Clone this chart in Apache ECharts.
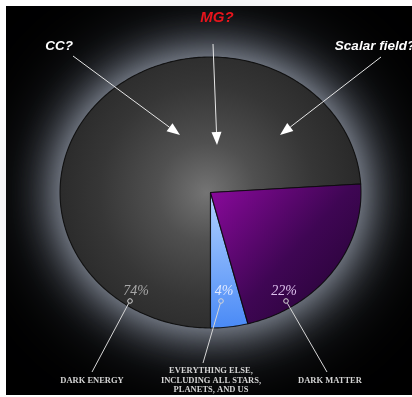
<!DOCTYPE html>
<html><head><meta charset="utf-8">
<script src="https://cdn.jsdelivr.net/npm/echarts@6/dist/echarts.min.js"></script>
<style>
html,body{margin:0;padding:0;background:#fff;}
#frame{position:absolute;left:6px;top:6px;width:406px;height:389px;background:#000;}
#chart{position:absolute;left:0;top:0;width:412px;height:397px;}
</style></head><body>
<div id="frame"></div><div id="chart"></div>
<script>
// Shares of the cosmic energy budget, in percent
const categories = ['DARK ENERGY', 'EVERYTHING ELSE,\nINCLUDING ALL STARS,\nPLANETS, AND US', 'DARK MATTER'];
const shares = [74, 4, 22];
// Candidate explanations pointing at the dark-energy wedge
const questions = ['CC?', 'MG?', 'Scalar field?'];

const chart = echarts.init(document.getElementById('chart'), null, { renderer: 'canvas' });

// The disc is a unit circle in data space; the grid's proportions stretch it into an ellipse.
const START = 270 - shares[0] * 3.6; // dark energy closes at six o'clock

function wedgeAngles(i) {
  let a0 = START;
  for (let k = 0; k < i; k++) a0 += shares[k] * 3.6;
  return [a0, a0 + shares[i] * 3.6];
}
function arcPoints(api, a0, a1) {
  const pts = [];
  const n = Math.max(2, Math.ceil(Math.abs(a1 - a0)));
  for (let s = 0; s <= n; s++) {
    const a = (a0 + (a1 - a0) * s / n) * Math.PI / 180;
    pts.push(api.coord([Math.cos(a), Math.sin(a)]));
  }
  return pts;
}
function wedgeFill(i, api) {
  const c = api.coord([0, 0]);
  if (i === 0) {
    return { type: 'radial', x: c[0] - 4, y: c[1], r: 165, global: true,
      colorStops: [{ offset: 0, color: '#747474' }, { offset: 0.3, color: '#505050' },
                   { offset: 0.65, color: '#363636' }, { offset: 1, color: '#262626' }] };
  }
  if (i === 1) {
    const b = api.coord([0, -1]);
    return { type: 'linear', x: c[0], y: c[1], x2: c[0], y2: b[1], global: true,
      colorStops: [{ offset: 0, color: '#b2d2ff' }, { offset: 1, color: '#4a8af6' }] };
  }
  const e = api.coord([1, -1]);
  return { type: 'linear', x: c[0], y: c[1], x2: e[0], y2: e[1], global: true,
    colorStops: [{ offset: 0, color: '#88099a' }, { offset: 0.5, color: '#3f0654' }, { offset: 1, color: '#1e032b' }] };
}

// Arrow from a question label towards the disc
function arrow(x0, y0, x1, y1) {
  const dx = x1 - x0, dy = y1 - y0, L = Math.hypot(dx, dy);
  const ux = dx / L, uy = dy / L, hl = 13, hw = 5;
  const bx = x1 - ux * hl, by = y1 - uy * hl;
  return [
    { type: 'line', z: 50, shape: { x1: x0, y1: y0, x2: bx, y2: by }, style: { stroke: '#e6e6e6', lineWidth: 1 } },
    { type: 'polygon', z: 50, shape: { points: [[x1, y1], [bx - uy * hw, by + ux * hw], [bx + uy * hw, by - ux * hw]] },
      style: { fill: '#ffffff' } }
  ];
}

const pctColors = ['#a6a6a6', '#dfe8ff', '#dcc0ec'];
const pctPos = [[136, 291], [224, 291], [284, 291]];
const markPos = [[130, 301], [221, 301], [286, 301]];
const namePos = [[92, 376], [211, 366], [330, 376]];
const leaderEnd = [[92, 372], [203, 363], [327, 372]];

const graphics = [];
shares.forEach((v, i) => {
  graphics.push({ type: 'text', z: 50, x: pctPos[i][0], y: pctPos[i][1],
    style: { text: v + '%', fill: pctColors[i], fontFamily: 'Liberation Serif', fontStyle: 'italic',
      fontSize: 14, align: 'center', verticalAlign: 'middle' } });
  graphics.push({ type: 'circle', z: 50, shape: { cx: markPos[i][0], cy: markPos[i][1], r: 2.3 },
    style: { fill: 'none', stroke: '#d6d6d6', lineWidth: 1 } });
  graphics.push({ type: 'line', z: 50, shape: { x1: markPos[i][0] + (leaderEnd[i][0] - markPos[i][0]) * 0.035,
      y1: markPos[i][1] + 2.3, x2: leaderEnd[i][0], y2: leaderEnd[i][1] },
    style: { stroke: '#d6d6d6', lineWidth: 1 } });
  graphics.push({ type: 'text', z: 50, x: namePos[i][0], y: namePos[i][1],
    style: { text: categories[i], fill: '#d4d4d4', fontFamily: 'Liberation Serif', fontWeight: 'bold',
      fontSize: 8.5, lineHeight: 9.6, align: 'center', verticalAlign: 'top' } });
});

const qPos = [[59, 46], [217, 18], [375, 46]];
const qColors = ['#ffffff', '#e8141c', '#ffffff'];
const qSizes = [13.5, 15, 13.5];
questions.forEach((q, i) => {
  graphics.push({ type: 'text', z: 50, x: qPos[i][0], y: qPos[i][1],
    style: { text: q, fill: qColors[i], fontFamily: 'Liberation Sans', fontStyle: 'italic', fontWeight: 'bold',
      fontSize: qSizes[i], align: 'center', verticalAlign: 'middle' } });
});
graphics.push(...arrow(73, 56, 180, 135), ...arrow(213, 44, 217, 145), ...arrow(381, 57, 280, 135));

chart.setOption({
  backgroundColor: 'transparent',
  animation: false,
  grid: { left: 60, top: 57, width: 301, height: 271 },
  xAxis: { type: 'value', min: -1, max: 1, show: false },
  yAxis: { type: 'value', min: -1, max: 1, show: false },
  graphic: graphics,
  series: [
    {
      // soft bluish halo behind the disc
      type: 'custom', coordinateSystem: 'cartesian2d', silent: true, z: 1,
      data: [[0, 0]],
      renderItem: (params, api) => ({
        type: 'group',
        children: [
          { type: 'polygon', shape: { points: arcPoints(api, 0, 360) },
            style: { fill: '#2a2a2a', shadowBlur: 90, shadowColor: '#707888' } },
          { type: 'polygon', shape: { points: arcPoints(api, 0, 360) },
            style: { fill: '#2a2a2a', shadowBlur: 45, shadowColor: '#a4acba' } }
        ]
      })
    },
    {
      type: 'custom', coordinateSystem: 'cartesian2d', silent: true, z: 2,
      data: shares.map((v, i) => ({ name: categories[i], value: [i, v] })),
      renderItem: (params, api) => {
        const i = params.dataIndex;
        const [a0, a1] = wedgeAngles(i);
        const pts = [api.coord([0, 0])].concat(arcPoints(api, a0, a1));
        return { type: 'polygon', shape: { points: pts },
          style: { fill: wedgeFill(i, api), stroke: 'rgba(10,10,10,0.85)', lineWidth: 1.1, lineJoin: 'round' } };
      }
    }
  ]
});
</script>
</body></html>
